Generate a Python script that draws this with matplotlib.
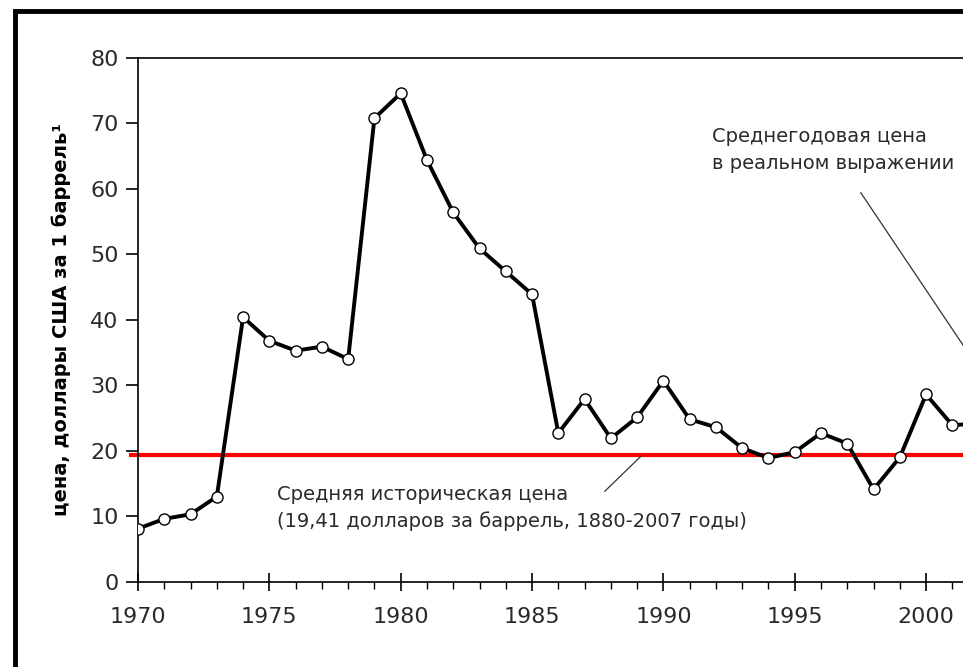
import matplotlib
matplotlib.use("Agg")
import matplotlib.pyplot as plt
from matplotlib.patches import Rectangle
from matplotlib.ticker import MultipleLocator

plt.rcParams["font.family"] = ["DejaVu Sans"]

# Average annual oil price, real terms (USD per barrel)
years = list(range(1970, 2003))
prices = [
    8.1, 9.6, 10.3, 13.0, 40.4, 36.8, 35.3, 35.9, 34.0, 70.8,
    74.6, 64.4, 56.4, 50.9, 47.4, 43.9, 22.7, 27.9, 21.9, 25.1,
    30.7, 24.8, 23.6, 20.4, 18.9, 19.8, 22.7, 21.1, 14.1, 19.0,
    28.6, 23.9, 24.2,
]
historical_avg = 19.41

y_label = "цена, доллары США за 1 баррель\u00b9"
avg_label = "Средняя историческая цена\n(19,41 долларов за баррель, 1880-2007 годы)"
series_label = "Среднегодовая цена\nв реальном выражении"

W, H = 963, 667
fig = plt.figure(figsize=(W / 100, H / 100), dpi=100)
ax = fig.add_axes([138 / W, 85.3 / H, (W - 138) / W, 523.7 / H])

# outer frame of the original picture (left and top edges visible)
fig.patches.append(Rectangle((15 / W, -0.2), 1.2, 0.2 + (H - 11) / H,
                             transform=fig.transFigure, fill=False,
                             edgecolor="black", linewidth=3.5))

ax.axhline(historical_avg, xmin=-0.008, xmax=1, color="#ff0000",
           linewidth=3, clip_on=False, zorder=2)
ax.plot(years, prices, color="black", linewidth=2.8, marker="o",
        markersize=8, markerfacecolor="white", markeredgecolor="black",
        markeredgewidth=1.0, zorder=3)

ax.set_xlim(1970, 1970 + (W - 138) / 26.27)
ax.set_ylim(0, 80)
ax.xaxis.set_major_locator(MultipleLocator(5))
ax.xaxis.set_minor_locator(MultipleLocator(1))
ax.yaxis.set_major_locator(MultipleLocator(10))

ax.spines["right"].set_visible(False)
for s in ("left", "bottom", "top"):
    ax.spines[s].set_linewidth(1.2)

ax.tick_params(axis="x", which="major", direction="inout", length=13,
               width=1.2, pad=12, labelsize=16)
ax.tick_params(axis="x", which="minor", direction="out", length=5, width=1.0)
ax.tick_params(axis="y", which="major", direction="out", length=9,
               width=1.2, pad=5, labelsize=16)
for lab in ax.get_xticklabels() + ax.get_yticklabels():
    lab.set_color("#2a2a2a")

ax.set_ylabel(y_label, fontsize=14, fontweight="bold", labelpad=14)

ax.text(1975.3, 14.8, avg_label, fontsize=14, ha="left", va="top",
        color="#2a2a2a", linespacing=1.5)
ax.annotate("", xy=(1989.23, 19.5), xytext=(1987.69, 13.5),
            arrowprops=dict(arrowstyle="-", color="#333333", linewidth=0.9))

ax.text(1991.85, 69.4, series_label, fontsize=14, ha="left", va="top",
        color="#2a2a2a", linespacing=1.5)
ax.annotate("", xy=(2002.5, 29.6), xytext=(1997.45, 59.8),
            arrowprops=dict(arrowstyle="-", color="#333333", linewidth=0.9),
            annotation_clip=False)

fig.savefig("out.png", dpi=100)
